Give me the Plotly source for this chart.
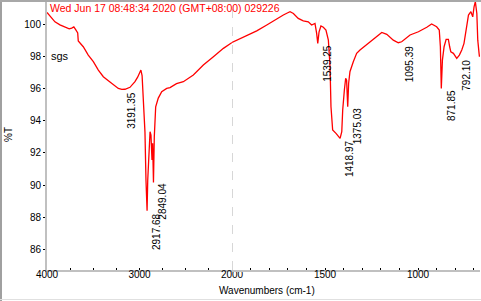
import plotly.graph_objects as go

# ---- data ----
wn_high = [4000, 3986, 3960, 3914, 3860, 3805, 3760, 3733, 3710, 3690, 3668, 3662,
           3608, 3554, 3499, 3445, 3391, 3340, 3301, 3260, 3229, 3191, 3157, 3103,
           3049, 3020, 2995, 2985, 2972, 2962, 2951, 2941, 2930, 2918, 2911, 2897,
           2886, 2876, 2865, 2858, 2849, 2840, 2825, 2797, 2760, 2706, 2670, 2600,
           2526, 2418, 2310, 2201, 2093, 2003, 2000]
t_high = [100.72, 100.62, 100.45, 100.14, 99.95, 99.83, 99.7, 99.75, 99.82, 99.65, 99.45, 98.95,
          98.59, 98.07, 97.66, 97.14, 96.73, 96.5, 96.32, 96.12, 96.0, 95.94, 95.95, 96.07,
          96.42, 96.7, 97.1, 97.14, 96.8, 95.7, 94.45, 93.3, 90.3, 88.4, 90.3, 92.4,
          93.31, 93.1, 91.55, 92.6, 90.15, 93.0, 94.86, 95.4, 95.8, 96.0, 96.05, 96.3,
          96.42, 96.83, 97.45, 97.97, 98.49, 98.84, 98.86]

wn_low = [2000, 1975, 1939, 1903, 1867, 1813, 1778, 1750, 1724, 1700, 1688, 1670,
          1655, 1644, 1617, 1590, 1572, 1554, 1545, 1539, 1532, 1522, 1509, 1495,
          1482, 1473, 1468, 1459, 1441, 1428, 1419, 1410, 1405, 1396, 1389, 1384,
          1378, 1373, 1366, 1348, 1330, 1312, 1258, 1220, 1195, 1168, 1133, 1106,
          1088, 1043, 998, 953, 927, 900, 886, 880, 875, 869, 860, 849, 837, 830,
          824, 810, 792, 778, 765, 753, 742, 729, 716, 706, 699, 692, 684, 679, 672, 670]
t_low = [98.86, 99.0, 99.17, 99.38, 99.58, 99.94, 100.2, 100.4, 100.56, 100.7, 100.77, 100.66,
         100.5, 100.35, 100.2, 100.14, 99.94, 100.04, 99.42, 98.8, 99.52, 99.88, 99.8, 99.63,
         99.0, 97.35, 94.86, 93.42, 93.21, 93.0, 92.9, 93.31, 94.66, 95.9, 96.63, 96.52,
         94.86, 96.32, 97.04, 97.66, 98.18, 98.39, 98.9, 99.3, 99.48, 99.36, 99.0, 98.84,
         98.9, 99.32, 99.52, 99.8, 100.0, 99.83, 99.63, 98.59, 96.0, 97.76, 98.59, 99.05, 99.05, 98.59,
         98.28, 98.18, 97.87, 98.07, 98.39, 98.8, 99.52, 100.56, 100.77, 100.45, 101.07, 101.39, 100.66,
         99.0, 98.18, 97.97]

peak_wn = [3191.35, 2917.68, 2849.04, 1539.25, 1418.97, 1375.03, 1095.39, 871.85, 792.10]
peak_t = [95.9, 88.39, 90.3, 98.82, 92.92, 94.97, 98.82, 96.02, 97.89]
peak_labels = ["3191.35", "2917.68", "2849.04", "1539.25", "1418.97", "1375.03",
               "1095.39", "871.85", "792.10"]

high_ticks = [4000, 3000, 2000]
low_ticks = [1500, 1000]

title_text = "Wed Jun 17 08:48:34 2020 (GMT+08:00) 029226"
sample_name = "sgs"
x_title = "Wavenumbers (cm-1)"
y_title = "%T"

FONT = "Liberation Sans"
RED = "#ff0000"
AX = "#c0c0c0"

W, H = 481, 301
ML, MR, MT, MB = 47, 1, 2, 31
PW = W - ML - MR
PH = H - MT - MB
split = (232 - ML) / PW

def px(x):
    return (x - ML) / PW

def py(y):
    return (H - MB - y) / PH

fig = go.Figure()
fig.add_trace(go.Scatter(x=wn_high, y=t_high, mode="lines", line=dict(color=RED, width=1.3),
                         xaxis="x", yaxis="y", showlegend=False, hoverinfo="skip"))
fig.add_trace(go.Scatter(x=wn_low, y=t_low, mode="lines", line=dict(color=RED, width=1.3),
                         xaxis="x2", yaxis="y", showlegend=False, hoverinfo="skip"))

axis_common = dict(showgrid=False, zeroline=False, showline=True, linecolor=AX, linewidth=2,
                   ticks="inside", ticklen=2, tickcolor="black", tickwidth=1, automargin=False,
                   ticklabelstandoff=-6,
                   tickfont=dict(family=FONT, size=10, color="black"), anchor="y")

fig.update_layout(
    template="none",
    width=W, height=H, autosize=False, showlegend=False,
    margin=dict(l=ML, r=MR, t=MT, b=MB, pad=0, autoexpand=False),
    paper_bgcolor="white", plot_bgcolor="white",
    xaxis=dict(domain=[0, split], range=[4000, 2000], tickvals=high_ticks,
               minor=dict(dtick=250, tick0=0, ticks="inside", ticklen=2, tickcolor="black"),
               **axis_common),
    xaxis2=dict(domain=[split, 1], range=[2000, 667], tickvals=low_ticks,
                minor=dict(dtick=100, tick0=0, ticks="inside", ticklen=2, tickcolor="black"),
                **axis_common),
    yaxis=dict(range=[84.72, 101.37], tickvals=[86, 88, 90, 92, 94, 96, 98, 100],
               ticktext=["86", "88", "90", "92", "94", "96", "98", "100"], automargin=False,
               showgrid=False, zeroline=False, showline=True, linecolor=AX, linewidth=2,
               ticks="outside", ticklen=2, tickcolor="black", tickwidth=1,
               tickfont=dict(family=FONT, size=10, color="black")),
)

shapes = [
    dict(type="line", xref="x2", yref="paper", x0=2000, x1=2000, y0=0, y1=1,
         line=dict(color="#b0b0b0", width=1, dash="dash"), layer="below"),
    dict(type="rect", xref="paper", yref="paper", x0=px(0), x1=px(2), y0=py(H), y1=py(2),
         fillcolor="#a0a0a0", line=dict(width=0)),
    dict(type="rect", xref="paper", yref="paper", x0=px(0), x1=px(W), y0=py(2), y1=py(0),
         fillcolor="#a8a8a8", line=dict(width=0)),
    dict(type="line", xref="paper", yref="paper", x0=px(0), x1=px(W), y0=py(299.5), y1=py(299.5),
         line=dict(color="#e0e0e0", width=1)),
]
fig.update_layout(shapes=shapes)

ann = [
    dict(text=title_text, xref="paper", yref="paper", x=px(48), y=py(7.5), xanchor="left",
         yanchor="middle", showarrow=False, font=dict(family=FONT, size=10.5, color=RED)),
    dict(text=sample_name, xref="paper", yref="paper", x=px(49), y=py(56), xanchor="left",
         yanchor="middle", showarrow=False, font=dict(family=FONT, size=11, color="black")),
    dict(text=y_title, xref="paper", yref="paper", x=px(8), y=py(135), xanchor="center",
         yanchor="middle", textangle=-90, showarrow=False, font=dict(family=FONT, size=10, color="black")),
    dict(text=x_title, xref="paper", yref="paper", x=px(267), y=py(290), xanchor="center",
         yanchor="middle", showarrow=False, font=dict(family=FONT, size=10, color="black")),
]
for w, t, lab in zip(peak_wn, peak_t, peak_labels):
    ann.append(dict(text=lab, xref="x" if w > 2000 else "x2", yref="y", x=w, y=t,
                    xanchor="left", yanchor="top", xshift=2, textangle=-90, showarrow=False,
                    font=dict(family=FONT, size=10, color="black")))
fig.update_layout(annotations=ann)

fig.write_html("out.html")
